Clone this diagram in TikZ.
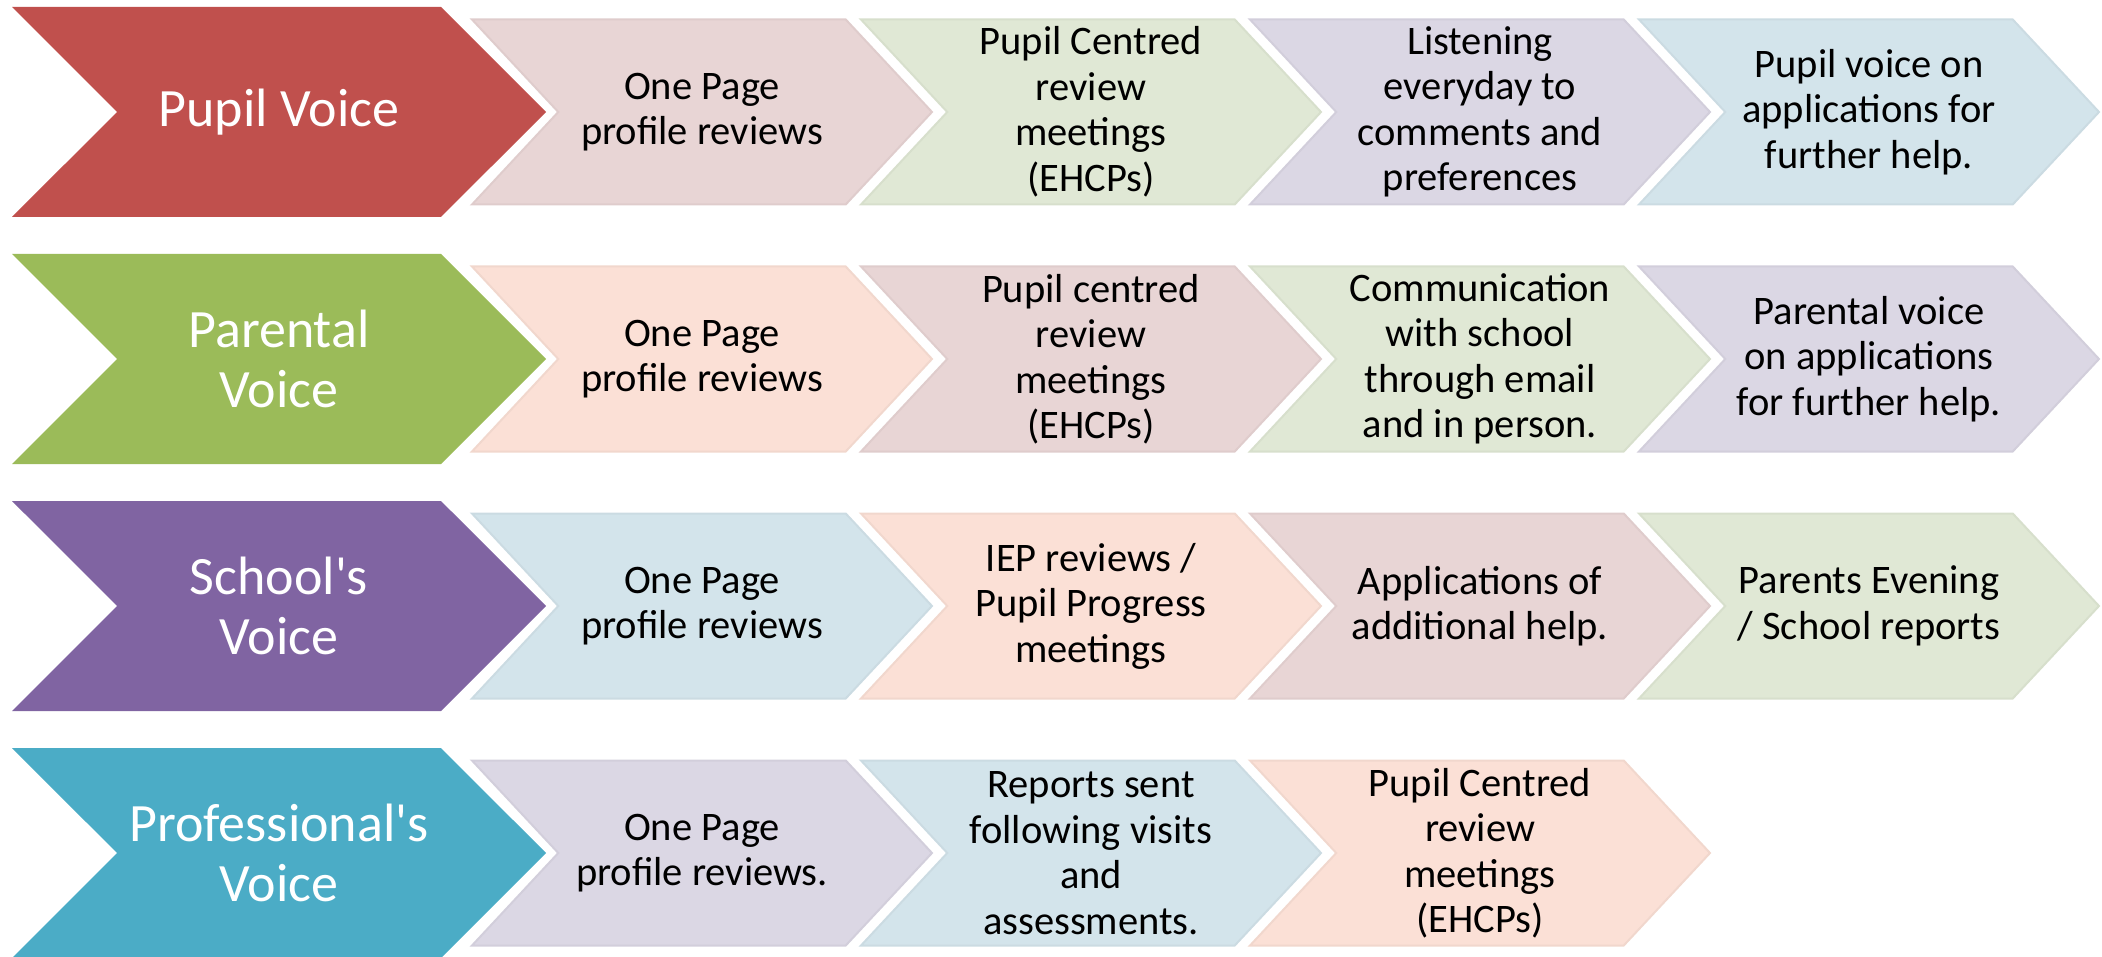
\documentclass[tikz,border=0pt]{standalone}
\usepackage{fontspec}
\setmainfont{Carlito}
\usepackage{tikz}
\usetikzlibrary{shapes.symbols}
% strong colours for the voices
\definecolor{pupilred}{HTML}{C0504D}
\definecolor{parentgreen}{HTML}{9BBB59}
\definecolor{schoolpurple}{HTML}{8064A2}
\definecolor{profteal}{HTML}{4BACC6}
% pale fills for the stages
\definecolor{pinkbg}{HTML}{E8D5D5}
\definecolor{greenbg}{HTML}{E0E8D5}
\definecolor{lilacbg}{HTML}{DBD7E4}
\definecolor{bluebg}{HTML}{D3E4EB}
\definecolor{peachbg}{HTML}{FBE0D6}

\begin{document}
\begin{tikzpicture}[x=1pt, y=-1pt,
    voice/.style={signal, signal from=west, signal to=east, signal pointer angle=90,
        minimum width=534pt, minimum height=210pt, inner sep=0pt, align=center,
        text=white, font=\fontsize{54}{60}\selectfont},
    stage/.style={signal, signal from=west, signal to=east, signal pointer angle=94,
        minimum width=460pt, minimum height=185pt, inner sep=0pt, align=center,
        line width=2pt, draw=#1!96!black, fill=#1, font=\fontsize{40.5}{45.5}\selectfont}
]
\useasboundingbox (0,0) rectangle (2102,957);

% Pupil
\node[voice, fill=pupilred] (pupil) at (279,112) {Pupil Voice};
\node[stage=pinkbg] (pupilA) at (702,112) {One Page\\profile reviews};
\node[stage=greenbg] (pupilB) at (1091,112) {Pupil Centred\\review\\meetings\\(EHCPs)};
\node[stage=lilacbg] (pupilC) at (1480,112) {Listening\\everyday to\\comments and\\preferences};
\node[stage=bluebg] (pupilD) at (1869,112) {Pupil voice on\\applications for\\further help.};

% Parental
\node[voice, fill=parentgreen] (parent) at (279,359) {Parental\\Voice};
\node[stage=peachbg] (parentA) at (702,359) {One Page\\profile reviews};
\node[stage=pinkbg] (parentB) at (1091,359) {Pupil centred\\review\\meetings\\(EHCPs)};
\node[stage=greenbg] (parentC) at (1480,359) {Communication\\with school\\through email\\and in person.};
\node[stage=lilacbg] (parentD) at (1869,359) {Parental voice\\on applications\\for further help.};

% School
\node[voice, fill=schoolpurple] (school) at (279,606) {School\textquotesingle s\\Voice};
\node[stage=bluebg] (schoolA) at (702,606) {One Page\\profile reviews};
\node[stage=peachbg] (schoolB) at (1091,606) {IEP reviews /\\Pupil Progress\\meetings};
\node[stage=pinkbg] (schoolC) at (1480,606) {Applications of\\additional help.};
\node[stage=greenbg] (schoolD) at (1869,606) {Parents Evening\\/ School reports};

% Professional
\node[voice, fill=profteal] (prof) at (279,853) {Professional\textquotesingle s\\Voice};
\node[stage=lilacbg] (profA) at (702,853) {One Page\\profile reviews.};
\node[stage=bluebg] (profB) at (1091,853) {Reports sent\\following visits\\and\\assessments.};
\node[stage=peachbg] (profC) at (1480,853) {Pupil Centred\\review\\meetings\\(EHCPs)};

\end{tikzpicture}
\end{document}
